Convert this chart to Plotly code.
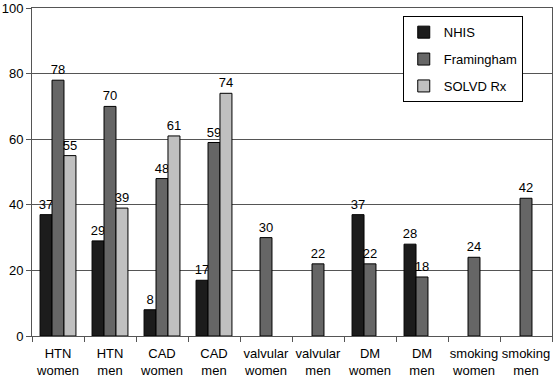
import plotly.graph_objects as go

categories = ["HTN<br>women", "HTN<br>men", "CAD<br>women", "CAD<br>men", "valvular<br>women",
              "valvular<br>men", "DM<br>women", "DM<br>men", "smoking<br>women", "smoking<br>men"]
nhis = [37, 29, 8, 17, None, None, 37, 28, None, None]
framingham = [78, 70, 48, 59, 30, 22, 22, 18, 24, 42]
solvd = [55, 39, 61, 74, None, None, None, None, None, None]
series_names = ["NHIS", "Framingham", "SOLVD Rx"]
colors = ["#1c1c1c", "#666666", "#c0c0c0"]

fig = go.Figure()
for i, (name, vals) in enumerate(zip(series_names, [nhis, framingham, solvd])):
    fig.add_trace(go.Bar(
        x=categories, y=vals, name=name,
        marker=dict(color=colors[i], line=dict(color="#000000", width=1)),
        text=[("" if v is None else str(v)) for v in vals],
        textposition="outside", cliponaxis=False, constraintext="none",
        textfont=dict(family="Liberation Sans, Arial", size=13, color="#000000"),
        legendgroup=name,
    ))

fig.update_layout(
    width=557, height=380,
    margin=dict(l=32, r=5, t=8, b=44, autoexpand=False),
    paper_bgcolor="white", plot_bgcolor="white",
    barmode="group", bargap=0.31, bargroupgap=0,
    font=dict(family="Liberation Sans, Arial", size=13, color="#000000"),
    showlegend=True,
    legend=dict(x=0.713, y=0.975, xanchor="left", yanchor="top",
                bordercolor="#000000", borderwidth=1, bgcolor="white",
                font=dict(size=13), tracegroupgap=7, traceorder="grouped",
                entrywidth=128),
    xaxis=dict(showline=True, linecolor="#555555", linewidth=1, mirror=True,
               ticks="outside", tickson="boundaries", ticklen=5, tickcolor="#555555",
               tickangle=0, tickfont=dict(size=13), ticklabelstandoff=5, automargin=False),
    yaxis=dict(range=[0, 100.01], tickvals=[0, 20, 40, 60, 80, 100], showline=True,
               linecolor="#555555", linewidth=1, ticklabeloverflow="allow",
               mirror=True, ticks="outside", ticklen=5, tickcolor="#555555",
               showgrid=True, gridcolor="#555555", gridwidth=1, zeroline=False,
               tickfont=dict(size=13), automargin=False),
)
fig.write_html("out.html", config={"displayModeBar": False},
               post_script="document.body.style.margin='0';")
